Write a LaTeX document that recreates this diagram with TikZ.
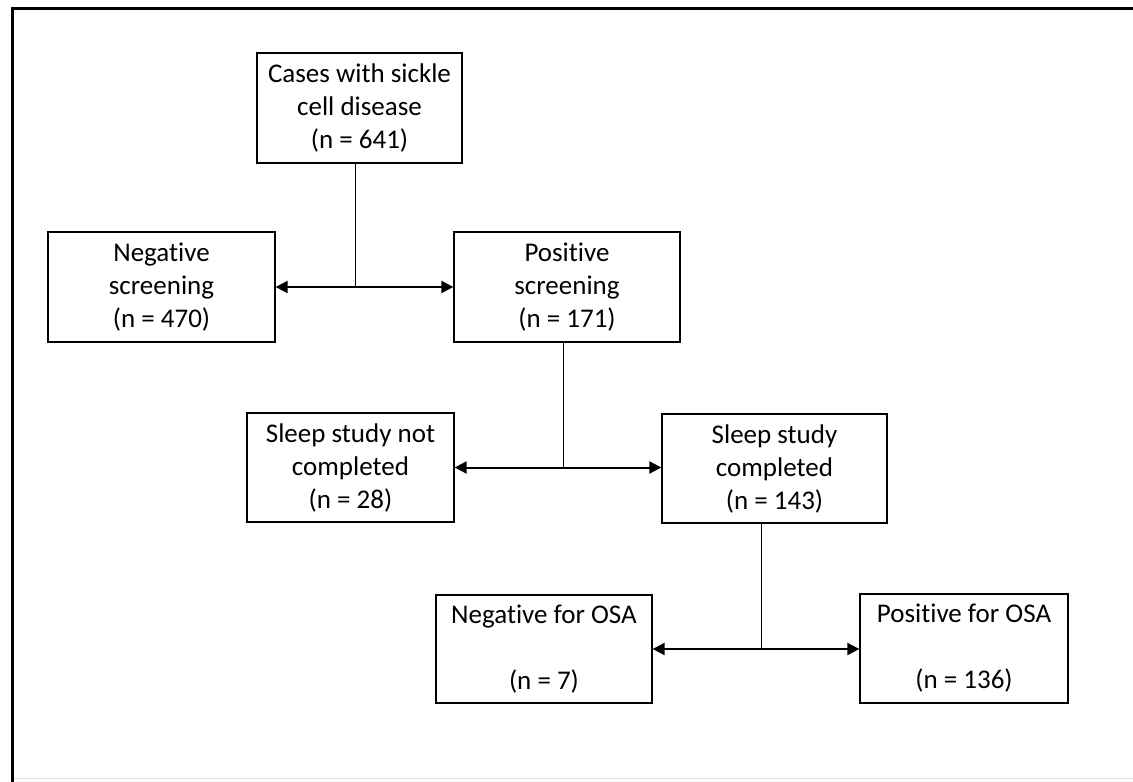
\documentclass[tikz,border=0pt]{standalone}
\usepackage{fontspec}
\setmainfont{Carlito}[Ligatures=NoCommon]
\usetikzlibrary{arrows.meta}
\begin{document}
\begin{tikzpicture}[x=1pt,y=-1pt,
  box/.style={draw=black,line width=1.3pt,inner sep=0pt,align=center,
    font=\fontsize{27}{33}\selectfont},
  conn/.style={draw=black,line width=1pt},
  biarrow/.style={draw=black,line width=2pt,
    {Triangle[length=12pt,width=12pt]}-{Triangle[length=12pt,width=12pt]}}]
\useasboundingbox (0,0) rectangle (1133,782);
\fill[white] (0,0) rectangle (1133,782);
% frame
\draw[line width=3pt] (1133,8) -- (12,8) -- (12,782);
\draw[gray!25,line width=1pt] (14,778) -- (1133,778);
% boxes
\node[box,minimum width=205pt,minimum height=110pt] (b1) at (359.5,108) {Cases with sickle\\cell disease\\(n = 641)};
\node[box,minimum width=227pt,minimum height=110pt] (neg) at (161.5,287) {Negative\\screening\\(n = 470)};
\node[box,minimum width=226pt,minimum height=110pt] (pos) at (567,287) {Positive\\screening\\(n = 171)};
\node[box,minimum width=207pt,minimum height=109pt] (ssn) at (350.5,467.5) {Sleep study not\\completed\\(n = 28)};
\node[box,minimum width=225pt,minimum height=109pt] (ssc) at (774.5,468.5) {Sleep study\\completed\\(n = 143)};
\node[box,minimum width=216pt,minimum height=108pt] (nosa) at (544,649) {Negative for OSA\\[33pt](n = 7)};
\node[box,minimum width=208pt,minimum height=109pt] (posa) at (964,648.5) {Positive for OSA\\[33pt](n = 136)};
% junctions
\coordinate (j1) at (355.5,287);
\coordinate (j2) at (563,468);
\coordinate (j3) at (761.5,648);
% connectors
\draw[conn] (b1.south -| j1) -- (j1);
\draw[biarrow] (neg.east) -- (pos.west);
\draw[conn] (pos.south -| j2) -- (j2);
\draw[biarrow] (ssn.east) -- (ssn.east -| ssc.west);
\draw[conn] (ssc.south -| j3) -- (j3);
\draw[biarrow] (nosa.east) -- (nosa.east -| posa.west);
\end{tikzpicture}
\end{document}
